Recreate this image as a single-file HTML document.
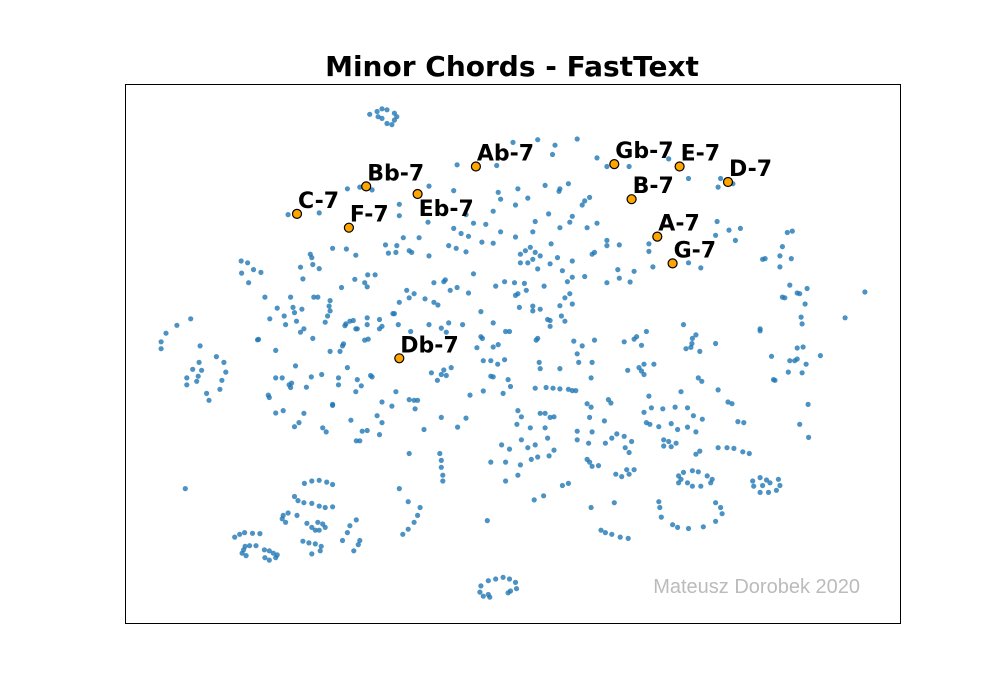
<!DOCTYPE html>
<html><head><meta charset="utf-8"><style>
body{margin:0;background:#fff;}
svg{display:block;}
</style></head><body>
<svg id="chart" width="1000" height="700" xmlns="http://www.w3.org/2000/svg">
<rect x="0" y="0" width="1000" height="700" fill="#fff"/>
<text x="512" y="76" text-anchor="middle" font-family="'DejaVu Sans', sans-serif" font-weight="bold" font-size="28">Minor Chords - FastText</text>
<g id="points"></g>
<g id="hl"></g>
<text x="860" y="593" text-anchor="end" font-family="'Liberation Sans', sans-serif" font-size="20" fill="#bbbbbb">Mateusz Dorobek 2020</text>
<rect x="125.5" y="84.5" width="775" height="539" fill="none" stroke="#000" stroke-width="1"/>
</svg>
<script>
// embedding coordinates (x right, y down in embedding units 0..1568)
const xs = [495,510,520,530,545,550,545,540,530,520,512,672,752,785,835,870,865,915,955,975,1020,1100,1140,1200,1230,1205,450,475,500,615,555,555,613,665,393,330,690,705,730,745,755,760,795,815,790,850,880,897,878,857,830,905,900,940,930,925,955,935,880,862,825,790,760,745,722,690,665,680,695,655,670,615,595,563,527,550,548,575,580,533,467,448,420,375,378,355,380,393,360,235,248,236,260,275,250,800,810,820,830,840,825,815,800,835,860,875,885,905,905,930,950,945,975,975,1000,1060,1060,1068,1030,1000,975,1022,997,1140,1165,1198,1222,1245,1235,1195,1290,1295,1325,1330,1348,1325,1340,1350,1345,1360,1380,1365,1335,1330,1376,1497,1457,1368,1370,1285,1285,705,768,750,788,808,812,795,790,848,895,900,890,905,880,883,890,860,860,855,840,825,825,798,720,745,770,778,695,672,658,648,625,645,570,575,585,607,625,633,555,545,515,490,491,506,465,438,485,490,415,413,415,410,405,382,390,335,358,343,340,347,362,355,380,322,325,308,293,283,270,447,455,462,467,445,470,490,492,515,520,485,440,415,435,442,450,432,432,470,478,467,497,500,398,377,345,337,332,335,305,318,367,305,268,290,292,305,320,362,352,343,420,400,407,133,105,83,73,73,152,185,200,204,196,192,165,170,150,137,155,148,125,125,145,553,542,578,615,640,655,650,620,640,650,660,645,632,683,720,723,712,745,755,725,754,768,740,745,775,780,725,698,765,740,835,832,838,840,880,908,925,950,915,945,918,943,1017,1040,1050,1070,1045,1050,1010,1030,1035,1055,1045,1130,1155,1148,1147,1135,1145,1163,1195,1160,1167,1200,1125,1312,1315,1308,1345,1355,1360,1360,1372,1378,1342,1370,1407,830,852,866,880,897,905,912,548,520,540,575,585,592,587,420,795,802,793,820,850,840,850,860,868,855,830,815,802,762,778,835,858,868,822,800,795,770,740,770,640,690,673,605,575,637,640,640,643,643,515,520,510,490,480,475,468,457,935,943,978,983,940,970,915,945,915,938,972,985,995,1010,1025,1012,1020,935,940,945,958,993,1005,1020,1030,1015,1060,1050,1065,1088,1113,1138,1150,1168,1055,1062,1080,1105,1118,1138,1155,1090,1100,1115,1090,1105,1240,1252,1200,1218,1232,1250,1263,1163,1155,1365,1382,1383,1220,1228,1120,1130,1148,1160,1178,1188,1185,1165,1148,1138,1125,1120,1080,1082,1085,1108,1118,1140,1170,1195,1208,1205,1195,1270,1285,1298,1305,1322,1325,1318,1302,1285,1272,1290,885,897,828,847,943,990,963,972,985,1002,1018,733,122,363,378,393,408,420,343,350,362,378,393,405,420,330,320,318,325,348,368,378,385,393,400,405,390,360,372,385,397,395,378,555,573,597,592,585,573,562,468,455,450,440,475,472,463,222,232,242,258,273,243,252,265,240,237,245,282,292,300,308,305,292,283,720,735,750,765,778,790,792,780,775,718,725,738,735];
const ys = [88,80,72,75,85,95,105,118,115,100,95,235,237,170,162,178,205,160,215,240,240,218,275,300,290,275,305,300,308,297,350,383,402,310,375,380,380,405,408,370,315,335,305,332,352,295,305,290,312,378,400,385,402,330,340,352,405,418,418,465,430,445,430,463,460,488,420,435,443,470,478,500,447,447,468,470,490,485,490,492,498,480,478,495,505,533,525,537,567,515,520,550,540,548,578,495,485,475,490,500,510,520,520,538,523,505,543,515,562,560,490,495,455,470,468,487,465,532,545,565,578,576,540,520,535,400,425,420,455,440,510,508,500,473,508,532,432,428,585,608,595,610,622,620,640,605,680,678,698,712,718,552,575,588,578,580,600,610,615,588,575,610,622,640,645,675,690,688,705,685,655,660,646,650,662,695,720,720,608,592,600,570,578,575,600,622,610,625,635,643,635,668,685,680,555,555,568,592,578,590,630,646,660,675,693,620,620,620,655,665,650,690,712,722,740,675,700,652,683,620,743,698,690,688,712,703,712,700,742,712,705,745,762,778,778,756,825,855,875,860,878,895,848,852,845,852,820,870,875,883,855,855,882,775,744,905,912,957,950,958,985,997,932,1000,1012,683,702,725,750,770,762,793,810,838,862,888,900,920,810,830,833,850,855,875,865,700,668,720,700,710,695,722,840,845,848,825,832,862,700,735,740,767,765,758,805,815,802,850,852,860,880,893,905,900,805,740,745,810,828,828,748,762,745,785,810,810,855,833,825,815,815,835,845,750,742,735,720,760,700,730,740,755,770,766,778,755,855,865,890,895,860,862,792,805,805,800,768,765,815,838,840,790,885,883,885,887,888,892,892,895,925,937,918,920,920,945,935,950,968,990,1000,1000,958,958,970,968,1030,1050,1058,1035,1050,1062,1085,1082,1065,1092,1108,1138,1155,1100,1100,970,972,998,1005,1075,1075,1095,1115,1138,1155,1020,985,965,1008,1010,1038,1038,978,930,940,918,928,970,980,1010,1012,1035,1045,1045,1030,1018,1025,1040,1058,1072,1092,1100,1112,1110,1135,1142,1135,1122,1122,908,955,942,945,940,942,965,975,985,990,997,988,1005,998,1012,1035,1040,1045,1053,1055,982,985,1058,1058,1060,1070,1075,1068,1077,990,932,1028,925,930,1140,1130,1125,1128,1140,1150,1160,1170,1170,1160,1150,1160,1215,1232,1260,1282,1290,1293,1288,1272,1250,1232,1218,1155,1145,1152,1160,1150,1168,1182,1188,1188,1170,1168,1168,1162,1210,1198,1232,1218,1298,1305,1310,1318,1322,1270,1177,1162,1155,1153,1158,1165,1200,1212,1218,1220,1228,1232,1230,1248,1255,1265,1275,1255,1278,1290,1298,1298,1280,1290,1275,1330,1335,1338,1345,1358,1367,1177,1215,1232,1255,1275,1295,1310,1268,1285,1305,1328,1328,1340,1358,1318,1310,1305,1307,1308,1345,1343,1343,1355,1365,1372,1355,1358,1365,1370,1378,1385,1378,1460,1445,1440,1435,1440,1450,1468,1475,1480,1478,1490,1493,1485];
// highlighted chords
const chordNames = ["C-7","Bb-7","Eb-7","F-7","Ab-7","Gb-7","E-7","D-7","B-7","A-7","G-7","Db-7"];
const chordX = [348,488,592,453,710,990,1122,1220,1025,1077,1108,555];
const chordY = [378,298,320,418,240,233,240,285,335,444,522,798];

const X0=125, X1=900, Y0=84, Y1=623;
function sx(v){return X0 + v*(X1-X0)/1568;}
function sy(v){return Y0 + v*(Y1-Y0)/1568;}
const NS="http://www.w3.org/2000/svg";
const pg=document.getElementById('points');
for(let i=0;i<xs.length;i++){
  const c=document.createElementNS(NS,'circle');
  c.setAttribute('cx',sx(xs[i]).toFixed(1));
  c.setAttribute('cy',sy(ys[i]).toFixed(1));
  c.setAttribute('r','2.6');
  c.setAttribute('fill','#1f77b4');
  c.setAttribute('fill-opacity','0.8');
  
  
  pg.appendChild(c);
}
const hg=document.getElementById('hl');
for(let i=0;i<chordNames.length;i++){
  const px=sx(chordX[i]), py=sy(chordY[i]);
  const c=document.createElementNS(NS,'circle');
  c.setAttribute('cx',px.toFixed(1));
  c.setAttribute('cy',py.toFixed(1));
  c.setAttribute('r','4.5');
  c.setAttribute('fill','#ffa500');
  c.setAttribute('stroke','#000');
  c.setAttribute('stroke-width','1.2');
  
  
  hg.appendChild(c);
  const t=document.createElementNS(NS,'text');
  t.setAttribute('x',(px+1).toFixed(1));
  t.setAttribute('y',(chordNames[i]==="Eb-7"? py+22 : py-6).toFixed(1));
  t.setAttribute('font-family',"'DejaVu Sans', sans-serif");
  t.setAttribute('font-weight','bold');
  t.setAttribute('font-size','22');
  t.textContent=chordNames[i];
  
  
  hg.appendChild(t);
}
</script>
</body></html>
